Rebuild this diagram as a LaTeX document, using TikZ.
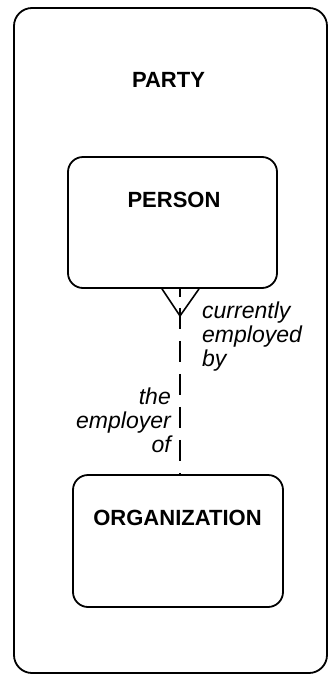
\documentclass[tikz,border=0pt]{standalone}
\usepackage{fontspec}
\setmainfont{Liberation Sans}
\begin{document}
\begin{tikzpicture}[x=1pt,y=-1pt,
  frame/.style={draw, line width=1.8pt, rounded corners=18pt},
  entity/.style={draw, line width=1.8pt, rounded corners=15pt, inner sep=0pt},
  ename/.style={font=\fontsize{22}{24}\selectfont\bfseries, inner sep=0pt, anchor=base},
  rlabel/.style={font=\fontsize{23}{24}\selectfont\itshape, inner sep=0pt},
  rel/.style={line width=1.6pt},
]
\useasboundingbox (0,0) rectangle (329,675);
\node[frame, minimum width=313pt, minimum height=665pt] (party) at (170.5,340.5) {};
\node[ename] (partyname) at (168.5,87) {PARTY};
\node[entity, minimum width=209pt, minimum height=131pt] (person) at (172.5,222.5) {};
\node[ename] (personname) at (174,207) {PERSON};
\node[entity, minimum width=210pt, minimum height=132pt] (org) at (178,541) {};
\node[ename] (orgname) at (177.5,525) {ORGANIZATION};
% relationship
\draw[rel, dash pattern=on 8pt off 11pt on 21pt off 12pt on 21pt off 12pt on 21pt off 12pt on 21pt off 12pt on 21pt off 12pt on 10pt off 100pt]
  ([xshift=7.5pt]person.south) -- ([xshift=2pt]org.north);
\draw[rel] ([xshift=-10.5pt]person.south) -- ([xshift=7.5pt,yshift=-27pt]person.south) -- ([xshift=26.5pt]person.south);
\node[rlabel, align=left, anchor=north west] (lab1) at (202,301.2) {currently\\employed\\by};
\node[rlabel, align=right, anchor=north east] (lab2) at (171,388) {the\\employer\\of};
\end{tikzpicture}
\end{document}
